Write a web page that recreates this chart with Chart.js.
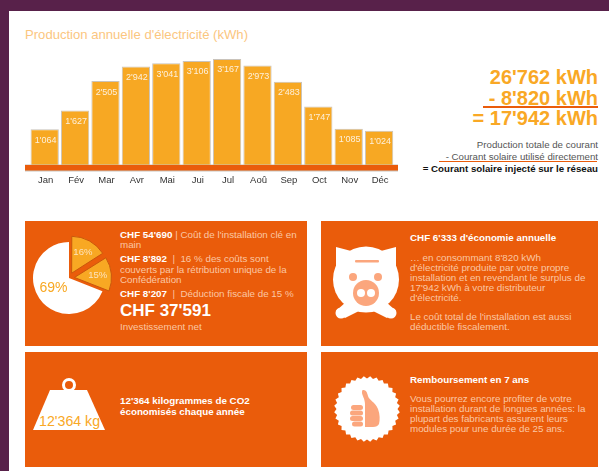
<!DOCTYPE html>
<html lang="fr">
<head>
<meta charset="utf-8">
<title>Production annuelle d'électricité</title>
<script src="https://cdn.jsdelivr.net/npm/chart.js@4"></script>
<style>
  html, body { margin: 0; padding: 0; }
  body { width: 609px; height: 471px; background: #58214a; overflow: hidden; position: relative;
         font-family: "Liberation Sans", Arial, sans-serif; }
  #page { position: absolute; left: 9px; top: 11px; width: 600px; height: 460px; background: #fff; }
  canvas { position: absolute; }
  .panel { position: absolute; background: #ea5c0b; }
  .t { position: absolute; white-space: nowrap; font-size: 9.8px; line-height: 10px; color: #fbc7a4; }
  .t b { color: #fff; }
  .r { text-align: right; }
  svg { position: absolute; }
</style>
</head>
<body>
<div id="page"></div>
<div class="t" style="left:25px;top:28px;font-size:13.1px;line-height:14px;color:#fbc67f">Production annuelle d'électricité (kWh)</div>
<canvas id="barChart" width="420" height="150" style="left:0;top:40px"></canvas>

<div class="t r" style="right:11px;top:67px;font-size:20px;line-height:20.5px;font-weight:bold;color:#f9a825">26'762 kWh<br>- 8'820 kWh<br>= 17'942 kWh</div>
<div style="position:absolute;left:483px;top:106px;width:115px;height:2px;background:#ea5c0b"></div>
<div class="t r" style="right:11px;top:139px;line-height:12px;font-size:9.7px;color:#555">Production totale de courant<br>- Courant solaire utilisé directement<br><b style="color:#111">= Courant solaire injecté sur le réseau</b></div>
<div style="position:absolute;left:439px;top:161px;width:158px;height:1px;background:#ea5c0b"></div>

<div class="panel" style="left:25px;top:221px;width:282px;height:125px"></div>
<div class="panel" style="left:321px;top:221px;width:277px;height:125px"></div>
<div class="panel" style="left:25px;top:352px;width:282px;height:115px"></div>
<div class="panel" style="left:321px;top:352px;width:277px;height:115px"></div>

<canvas id="pieChart" width="100" height="100" style="left:19px;top:228px"></canvas>
<div class="t" style="left:120px;top:230px"><b>CHF 54'690</b> | Coût de l'installation clé en<br>main</div>
<div class="t" style="left:120px;top:254px;line-height:10.5px"><b>CHF 8'892</b> &nbsp;|&nbsp; 16 % des coûts sont<br>couverts par la rétribution unique de la<br>Confédération</div>
<div class="t" style="left:120px;top:289px"><b>CHF 8'207</b> &nbsp;|&nbsp; Déduction fiscale de 15 %</div>
<div class="t" style="left:120px;top:301px;font-size:17px;line-height:20px;font-weight:bold;color:#fff">CHF 37'591</div>
<div class="t" style="left:120px;top:322px">Investissement net</div>

<svg style="left:321px;top:221px" width="90" height="125" viewBox="0 0 90 125">
  <polygon fill="#fff" points="15,26 34,31 15,50"/>
  <polygon fill="#fff" points="75,26 56,31 75,50"/>
  <polygon fill="#fff" points="26,80 15,90 24,97 42,88"/>
  <polygon fill="#fff" points="64,80 75,90 66,97 48,88"/>
  <circle cx="20" cy="92" r="5.5" fill="#fff"/>
  <circle cx="70" cy="92" r="5.5" fill="#fff"/>
  <circle cx="45" cy="58.5" r="33" fill="#fff"/>
  <rect x="34" y="39" width="24" height="2.5" rx="1" fill="#fba67d"/>
  <circle cx="32" cy="56" r="4" fill="#fba67d"/>
  <circle cx="57" cy="56" r="4" fill="#fba67d"/>
  <circle cx="45" cy="72" r="13" fill="#fba67d"/>
  <circle cx="40" cy="72" r="4" fill="#fff"/>
  <circle cx="50" cy="72" r="4" fill="#fff"/>
</svg>

<svg style="left:25px;top:352px" width="90" height="90" viewBox="0 0 90 90">
  <circle cx="44" cy="33" r="5.5" fill="#ea5c0b" stroke="#fff" stroke-width="3"/>
  <polygon fill="#fff" points="25,38 62,38 80,78 8,78"/>
</svg>
<div class="t" style="left:39px;top:413px;font-size:14.2px;line-height:16px;color:#f9a825">12'364 kg</div>
<div class="t" style="left:120px;top:396px;line-height:10.5px"><b>12'364 kilogrammes de CO2<br>économisés chaque année</b></div>

<svg id="badge" style="left:321px;top:352px" width="90" height="115" viewBox="0 0 90 115">
  <polygon id="badgeEdge" fill="#fff"/>
  <path fill="#fba67d" d="M42 38 C45 38 46 40 47 44 C48 48 54 50 57 57 C59 62 59 68 58 72 C57 74 55 75 52 75 L44 75 L44 52 C44 47 41 43 41 41 C41 39 41 38 42 38 Z"/>
  <rect x="30" y="53" width="12" height="5" rx="2.5" fill="#fba67d"/>
  <rect x="29" y="58.5" width="13" height="5" rx="2.5" fill="#fba67d"/>
  <rect x="29" y="64" width="13" height="5" rx="2.5" fill="#fba67d"/>
  <rect x="31" y="69.5" width="11" height="5" rx="2.5" fill="#fba67d"/>
</svg>

<div class="t" style="left:410px;top:233px"><b>CHF 6'333 d'économie annuelle</b></div>
<div class="t" style="left:410px;top:253px;line-height:9.9px">… en consommant 8'820 kWh<br>d'électricité produite par votre propre<br>installation et en revendant le surplus de<br>17'942 kWh à votre distributeur<br>d'électricité.</div>
<div class="t" style="left:410px;top:312px">Le coût total de l'installation est aussi<br>déductible fiscalement.</div>
<div class="t" style="left:410px;top:375px"><b>Remboursement en 7 ans</b></div>
<div class="t" style="left:410px;top:394px">Vous pourrez encore profiter de votre<br>installation durant de longues années: la<br>plupart des fabricants assurent leurs<br>modules pour une durée de 25 ans.</div>

<script>
const months = ['Jan', 'Fév', 'Mar', 'Avr', 'Mai', 'Jui', 'Jul', 'Aoû', 'Sep', 'Oct', 'Nov', 'Déc'];
const production = [1064, 1627, 2505, 2942, 3041, 3106, 3167, 2973, 2483, 1747, 1085, 1024];
const shareLabels = ['16%', '15%', '69%'];
const shares = [16, 15, 69];

const fmt = v => String(v).replace(/\B(?=(\d{3})+$)/g, "'");

// badge edge, just decoration
const pts = [];
for (let i = 0; i < 64; i++) {
    const r = i % 2 ? 33 : 30.5;
    const a = i * Math.PI / 32;
    pts.push((46 + r * Math.cos(a)).toFixed(1) + ',' + (57 + r * Math.sin(a)).toFixed(1));
}
document.getElementById('badgeEdge').setAttribute('points', pts.join(' '));

// thick orange line under the bars + value labels
const barExtras = {
    id: 'barExtras',
    afterDatasetsDraw(chart) {
        const ctx = chart.ctx;
        const y0 = chart.scales.y.getPixelForValue(0);
        ctx.save();
        ctx.fillStyle = '#c9c3bb';
        ctx.fillRect(chart.chartArea.left - 4.5, y0 - 0.5, 373, 7);
        ctx.fillStyle = '#ea5c0b';
        ctx.fillRect(chart.chartArea.left - 4.5, y0, 373, 5.5);
        ctx.fillStyle = '#fdf0dc';
        ctx.font = '9px "Liberation Sans"';
        ctx.textAlign = 'center';
        ctx.textBaseline = 'middle';
        chart.getDatasetMeta(0).data.forEach((bar, i) => {
            ctx.fillText(fmt(production[i]), bar.x + 1, bar.y + 11);
        });
        ctx.restore();
    }
};

new Chart(document.getElementById('barChart').getContext('2d'), {
    type: 'bar',
    data: {
        labels: months,
        datasets: [{
            data: production,
            backgroundColor: '#f7a823',
            borderColor: '#c9c3bb',
            borderWidth: { top: 1, left: 1, right: 1, bottom: 0 },
            categoryPercentage: 1,
            barPercentage: 0.93
        }]
    },
    options: {
        responsive: false,
        animation: false,
        layout: { padding: { left: 29.5, right: 25.7, top: 14.5, bottom: 0 } },
        plugins: { legend: { display: false }, tooltip: { enabled: false } },
        scales: {
            x: {
                afterFit(scale) { scale.height = 25; },
                grid: { display: false },
                border: { display: false },
                ticks: { color: '#333', font: { size: 9.5, family: 'Liberation Sans' }, padding: 2, labelOffset: 1, maxRotation: 0, autoSkip: false }
            },
            y: { display: false, min: 0, max: 3300 }
        }
    },
    plugins: [barExtras]
});

const pieLabels = {
    id: 'pieLabels',
    afterDatasetsDraw(chart) {
        const ctx = chart.ctx;
        ctx.save();
        ctx.textAlign = 'center';
        ctx.textBaseline = 'middle';
        chart.getDatasetMeta(0).data.forEach((arc, i) => {
            const small = shares[i] < 50;
            const mid = (arc.startAngle + arc.endAngle) / 2;
            const d = arc.outerRadius * (small ? 0.8 : 0.52);
            ctx.fillStyle = small ? '#fde3bd' : '#f8a823';
            ctx.font = (small ? 9.5 : 14) + 'px "Liberation Sans"';
            ctx.fillText(shareLabels[i], arc.x + Math.cos(mid) * d, arc.y + Math.sin(mid) * d);
        });
        ctx.restore();
    }
};

new Chart(document.getElementById('pieChart').getContext('2d'), {
    type: 'pie',
    data: {
        labels: shareLabels,
        datasets: [{
            data: shares,
            backgroundColor: ['#f8a823', '#f8a823', '#ffffff'],
            borderColor: ['#c9560c', '#c9560c', '#ffffff'],
            borderWidth: [1, 1, 0],
            offset: [22, 22, 0]
        }]
    },
    options: {
        responsive: false,
        animation: false,
        radius: 36,
        plugins: { legend: { display: false }, tooltip: { enabled: false } }
    },
    plugins: [pieLabels]
});
</script>
</body>
</html>
